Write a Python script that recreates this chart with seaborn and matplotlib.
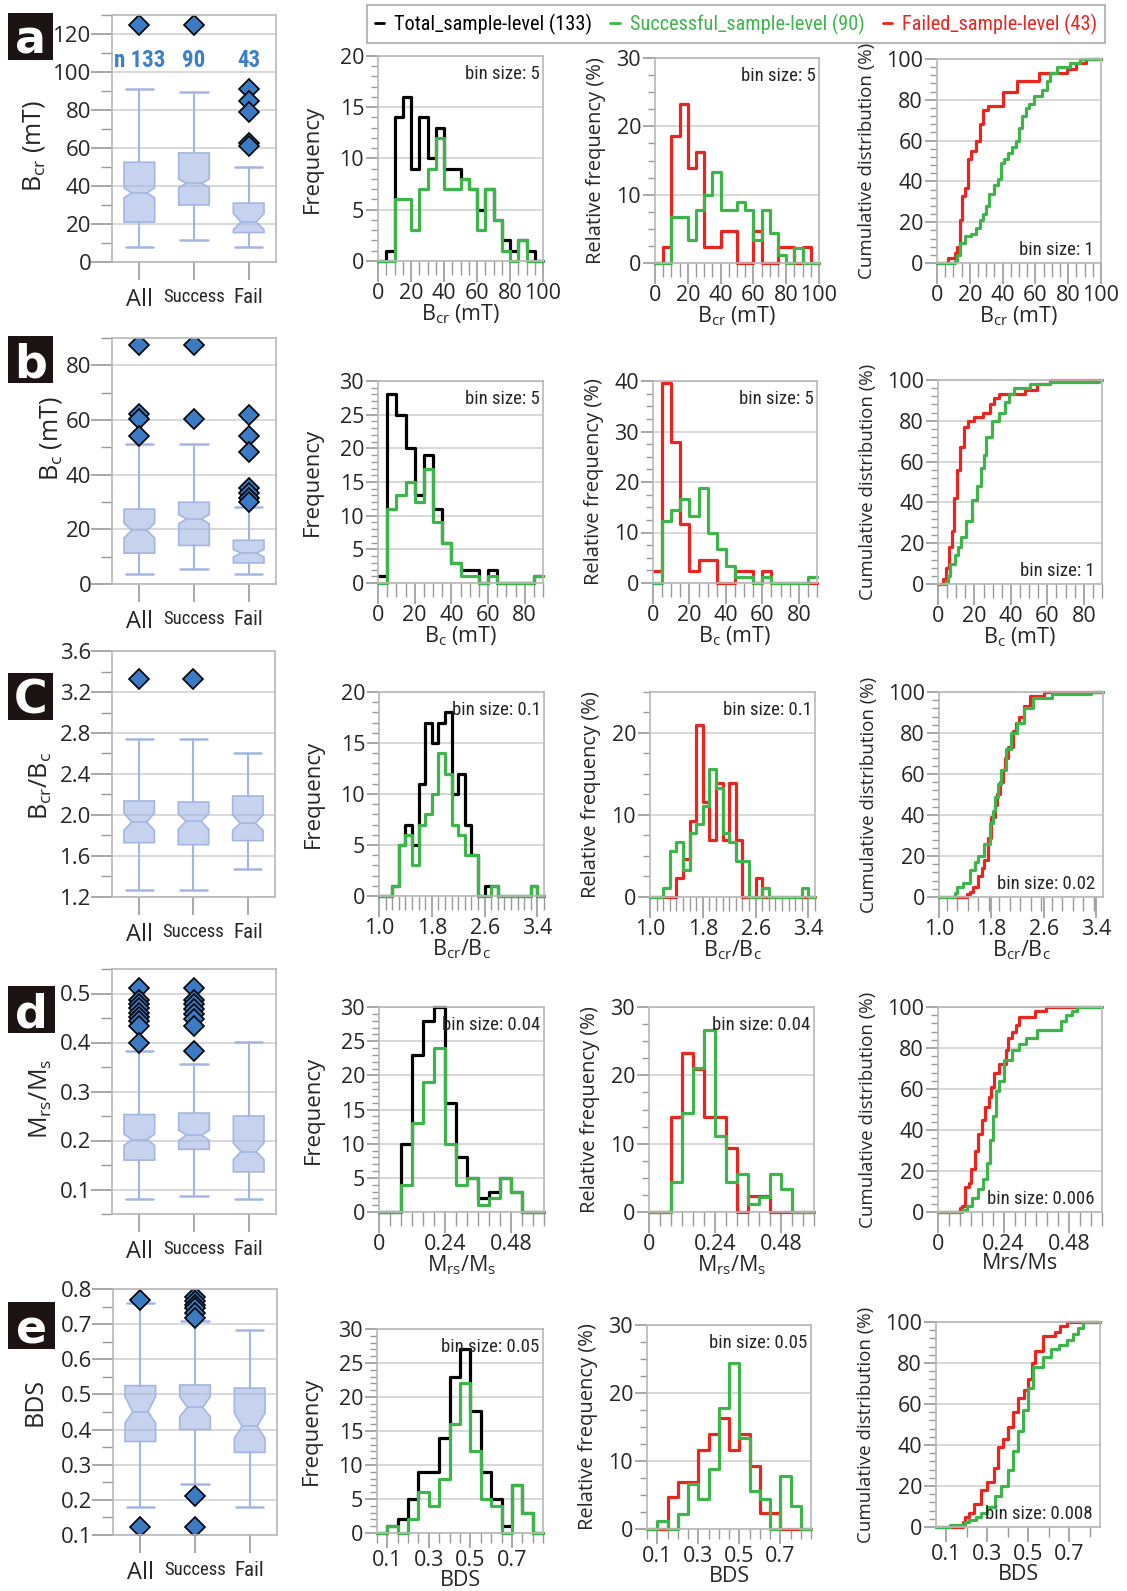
import numpy as np
import pandas as pd
import matplotlib
matplotlib.use("Agg")
import matplotlib.pyplot as plt
import seaborn as sns
from matplotlib import font_manager
from matplotlib.lines import Line2D
from matplotlib.patches import Rectangle
from matplotlib.font_manager import FontProperties
from matplotlib.ticker import MultipleLocator, FormatStrFormatter

# ── Style ─────────────────────────────────────────────────────────────────────
sns.set_style("white")
plt.rcParams["font.family"] = ["Open Sans", "DejaVu Sans"]
plt.rcParams["mathtext.default"] = "regular"


def has_font(name):
    try:
        font_manager.findfont(FontProperties(family=name), fallback_to_default=False)
        return True
    except ValueError:
        return False


# condensed text where the figure uses a narrow face
if has_font("Roboto Condensed"):
    NARROW, NS = ["Roboto Condensed"], 1.0
else:
    NARROW, NS = ["Liberation Sans", "DejaVu Sans"], 0.86

W, H = 1127, 1591
BLACK, GREEN, RED = "#000000", "#3db54b", "#e8251f"
BOX_FILL, BOX_EDGE, FLIER, N_COLOR = (0.64, 0.71, 0.89, 0.6), "#a3b6e2", "#3a7bc4", "#3f80c4"
GRID, SPINE = "#d2d2d2", "#b8b8b8"

# ── Data ──────────────────────────────────────────────────────────────────────
GROUPS = ["All", "Success", "Fail"]
N_SUCCESS, N_FAIL = 90, 43
N_LABELS = ["n 133", "90", "43"]
LEGEND_LABELS = ["Total_sample-level (133)", "Successful_sample-level (90)",
                 "Failed_sample-level (43)"]

# Bcr (mT), bins of 5 from 0
BCR_TOTAL = [0, 1, 14, 16, 9, 14, 10, 13, 9, 9, 8, 7, 5, 7, 4, 2, 1, 2, 1, 0]
BCR_SUCCESS = [0, 0, 6, 6, 3, 7, 9, 12, 7, 7, 8, 7, 3, 7, 4, 1, 0, 2, 0, 0]
BCR_FAIL = [0, 1, 8, 10, 6, 7, 1, 1, 2, 2, 0, 0, 2, 0, 0, 1, 1, 0, 1, 0]
BCR_MED = [36.4, 41.4, 21.1]
BCR_Q1 = [21.0, 30.0, 15.5]
BCR_Q3 = [52.5, 57.4, 31.0]
BCR_WLO = [7.9, 11.8, 7.9]
BCR_WHI = [91.0, 89.3, 49.8]
BCR_CILO = [33.8, 39.2, 17.0]
BCR_CIHI = [39.0, 43.6, 25.5]
BCR_FLIERS = [[124.5], [124.5], [91.0, 85.0, 79.0, 62.5, 61.2]]
BCR_ECDF_FAIL_X = [0, 7, 11, 12, 14, 15, 17, 19, 21, 23.5, 26, 28, 31, 40, 49, 62, 79, 85, 91, 100]
BCR_ECDF_FAIL_Y = [0, 2.3, 4.7, 8, 21, 33, 37, 51, 55, 60, 68, 75, 77, 84, 89, 93, 95, 98, 100, 100]
BCR_ECDF_SUCC_X = [0, 11, 12, 14, 17, 21, 24, 26, 28, 30, 32, 35, 37, 39, 41, 43, 46, 48, 50,
                   52, 54, 56, 59, 64, 67, 69, 73, 81, 87, 100]
BCR_ECDF_SUCC_Y = [0, 1, 4, 10, 13, 14, 17, 21, 24, 28, 34, 38, 41, 49, 51, 54, 57, 60, 66,
                   72, 76, 78, 82, 85, 89, 93, 96, 98, 100, 100]

# Bc (mT), bins of 5 from 0
BC_TOTAL = [1, 28, 25, 20, 13, 19, 11, 6, 3, 2, 2, 0, 2, 0, 0, 0, 0, 1]
BC_SUCCESS = [0, 11, 13, 15, 12, 17, 9, 6, 3, 1, 1, 0, 1, 0, 0, 0, 0, 1]
BC_FAIL = [1, 17, 12, 5, 1, 2, 2, 0, 0, 1, 1, 0, 1, 0, 0, 0, 0, 0]
BC_MED = [19.6, 23.8, 11.3]
BC_Q1 = [11.3, 14.1, 7.7]
BC_Q3 = [27.4, 29.9, 16.0]
BC_WLO = [3.8, 5.5, 3.8]
BC_WHI = [51.2, 51.2, 28.2]
BC_CILO = [16.8, 22.0, 9.9]
BC_CIHI = [22.3, 25.4, 12.6]
BC_FLIERS = [[87.4, 62.3, 60.4, 54.3], [87.4, 60.4],
             [61.8, 54.3, 48.3, 35.1, 33.3, 31.5, 30.0]]
BC_ECDF_FAIL_X = [0, 3, 4.6, 6, 7.6, 9, 10.6, 12, 14, 16.6, 19.6, 24.6, 28.6, 31, 33.6,
                  47.6, 54.6, 61.6, 90]
BC_ECDF_FAIL_Y = [0, 2.3, 7.7, 18, 26, 42, 56, 67, 77, 80, 82, 84, 88, 91, 93, 95, 98, 100, 100]
BC_ECDF_SUCC_X = [0, 4.2, 5.5, 6.6, 9.6, 11, 12.6, 15.6, 18.6, 21.6, 23.6, 25, 26.6, 29.6,
                  33.6, 36.6, 39, 41.6, 50.6, 61.6, 88.6, 90]
BC_ECDF_SUCC_Y = [0, 1, 4, 10, 14, 18, 23, 31, 41, 48, 57, 63, 72, 80, 84, 89, 93, 96, 98,
                  99, 100, 100]

# Bcr/Bc, bins of 0.1 from 1.0
RATIO_TOTAL = [0, 0, 1, 5, 7, 5, 11, 17, 15, 17, 18, 10, 12, 7, 4, 0, 1, 1, 0, 0, 0, 0, 0, 1, 0]
RATIO_SUCCESS = [0, 0, 1, 5, 6, 3, 7, 8, 10, 14, 12, 7, 6, 4, 4, 0, 0, 1, 0, 0, 0, 0, 0, 1, 0]
RATIO_FAIL = [0, 0, 0, 0, 1, 2, 4, 9, 5, 3, 6, 3, 6, 3, 0, 0, 1, 0, 0, 0, 0, 0, 0, 0, 0]
RATIO_MED = [1.93, 1.94, 1.92]
RATIO_Q1 = [1.73, 1.71, 1.75]
RATIO_Q3 = [2.137, 2.127, 2.185]
RATIO_WLO = [1.265, 1.265, 1.47]
RATIO_WHI = [2.745, 2.745, 2.605]
RATIO_CILO = [1.85, 1.86, 1.85]
RATIO_CIHI = [2.02, 2.01, 2.0]
RATIO_FLIERS = [[3.33], [3.33], []]
RATIO_ECDF_FAIL_X = [1.0, 1.43, 1.47, 1.52, 1.6, 1.65, 1.69, 1.75, 1.8, 1.85, 1.88, 1.93, 1.97,
                     2.01, 2.05, 2.13, 2.18, 2.22, 2.3, 2.38, 2.6, 3.5]
RATIO_ECDF_FAIL_Y = [0, 1.6, 2.3, 5, 10, 14, 18, 29, 39, 45, 50, 56, 62, 68, 73, 81, 85, 88, 93,
                     98, 100, 100]
RATIO_ECDF_SUCC_X = [1.0, 1.25, 1.28, 1.36, 1.47, 1.55, 1.6, 1.69, 1.77, 1.82, 1.86, 1.9, 1.94,
                     2.02, 2.1, 2.19, 2.3, 2.44, 2.72, 3.32, 3.5]
RATIO_ECDF_SUCC_Y = [0, 2, 5, 7, 13, 17, 20, 26, 36, 42, 49, 55, 62, 72, 80, 85, 92, 97, 99,
                     100, 100]

# Mrs/Ms, bins of 0.04 from 0
MRS_TOTAL = [0, 0, 10, 23, 28, 30, 16, 8, 5, 2, 3, 5, 3, 0, 0]
MRS_SUCCESS = [0, 0, 4, 13, 19, 24, 10, 4, 5, 1, 2, 5, 3, 0, 0]
MRS_FAIL = [0, 0, 6, 10, 9, 6, 6, 4, 0, 1, 1, 0, 0, 0, 0]
MRS_MED = [0.202, 0.211, 0.177]
MRS_Q1 = [0.160, 0.182, 0.136]
MRS_Q3 = [0.253, 0.256, 0.250]
MRS_WLO = [0.081, 0.086, 0.081]
MRS_WHI = [0.383, 0.356, 0.402]
MRS_CILO = [0.190, 0.200, 0.161]
MRS_CIHI = [0.213, 0.221, 0.195]
MRS_FLIERS = [[0.512, 0.486, 0.479, 0.471, 0.461, 0.452, 0.444, 0.434, 0.400],
              [0.512, 0.486, 0.478, 0.468, 0.458, 0.447, 0.434, 0.383], []]
MRS_ECDF_FAIL_X = [0, 0.079, 0.088, 0.099, 0.112, 0.121, 0.135, 0.148, 0.162, 0.171, 0.185,
                   0.194, 0.204, 0.224, 0.247, 0.257, 0.27, 0.284, 0.297, 0.356, 0.396, 0.6]
MRS_ECDF_FAIL_Y = [0, 2, 3, 12, 14, 21, 30, 38, 45, 51, 56, 61, 68, 72, 79, 85, 88, 91, 95, 98,
                   100, 100]
MRS_ECDF_SUCC_X = [0, 0.086, 0.106, 0.125, 0.145, 0.165, 0.178, 0.191, 0.202, 0.211, 0.224,
                   0.241, 0.27, 0.297, 0.323, 0.363, 0.449, 0.468, 0.49, 0.508, 0.6]
MRS_ECDF_SUCC_Y = [0, 1, 3, 7, 11, 16, 24, 35, 47, 59, 64, 74, 79, 82, 85, 89, 93, 96, 98,
                   100, 100]

# BDS, bins of 0.05 from 0.05
BDS_TOTAL = [0, 1, 2, 5, 9, 9, 14, 23, 27, 18, 9, 5, 1, 7, 3, 0]
BDS_SUCCESS = [0, 1, 0, 2, 6, 4, 8, 16, 22, 12, 5, 4, 0, 7, 3, 0]
BDS_FAIL = [0, 0, 2, 3, 3, 5, 6, 7, 5, 6, 4, 1, 1, 0, 0, 0]
BDS_MED = [0.451, 0.463, 0.410]
BDS_Q1 = [0.366, 0.400, 0.335]
BDS_Q3 = [0.525, 0.527, 0.518]
BDS_WLO = [0.179, 0.245, 0.179]
BDS_WHI = [0.760, 0.710, 0.682]
BDS_CILO = [0.418, 0.437, 0.375]
BDS_CIHI = [0.494, 0.494, 0.447]
BDS_FLIERS = [[0.770, 0.122], [0.777, 0.765, 0.755, 0.746, 0.733, 0.717, 0.211, 0.122], []]
BDS_ECDF_FAIL_X = [0.05, 0.18, 0.19, 0.21, 0.235, 0.27, 0.3, 0.332, 0.35, 0.376, 0.402, 0.425,
                   0.45, 0.478, 0.5, 0.517, 0.535, 0.57, 0.63, 0.655, 0.69, 0.85]
BDS_ECDF_FAIL_Y = [0, 2.3, 5, 7, 11, 18, 22, 29, 39, 43, 49, 56, 63, 67, 72, 80, 86, 93, 95, 98,
                   100, 100]
BDS_ECDF_SUCC_X = [0.05, 0.12, 0.19, 0.21, 0.245, 0.27, 0.3, 0.34, 0.367, 0.402, 0.428, 0.45,
                   0.472, 0.5, 0.525, 0.57, 0.613, 0.65, 0.69, 0.72, 0.745, 0.765, 0.85]
BDS_ECDF_SUCC_Y = [0, 1.1, 2.2, 3.3, 5, 7, 10, 15, 20, 28, 37, 47, 57, 68, 78, 83, 87, 89, 91,
                   94, 97, 100, 100]


def box_stats(med, q1, q3, wlo, whi, cilo, cihi, fliers):
    return [dict(med=med[i], q1=q1[i], q3=q3[i], whislo=wlo[i], whishi=whi[i],
                 cilo=cilo[i], cihi=cihi[i], fliers=fliers[i]) for i in range(3)]


ROWS = [
    dict(letter="a", ylabel="B$_{cr}$ (mT)", xlabel="B$_{cr}$ (mT)", xlabel4="B$_{cr}$ (mT)",
         stats=box_stats(BCR_MED, BCR_Q1, BCR_Q3, BCR_WLO, BCR_WHI, BCR_CILO, BCR_CIHI, BCR_FLIERS),
         box_ylim=(0, 130), box_major=20, box_minor=10, box_fmt="%d",
         bin0=0, binw=5, total=BCR_TOTAL, succ=BCR_SUCCESS, fail=BCR_FAIL,
         xlim=(0, 100), xticks=[0, 20, 40, 60, 80, 100], xlabels=None, xminor=5, xminor4=5,
         freq_ylim=20, freq_major=5, rel_ylim=30, rel_major=10,
         ecdf=(BCR_ECDF_FAIL_X, BCR_ECDF_FAIL_Y, BCR_ECDF_SUCC_X, BCR_ECDF_SUCC_Y),
         bin_text="5", bin_text4="1", ylab_px=47, ylab_frac=0.47, xlab_px=41, tick_len=15),
    dict(letter="b", ylabel="B$_c$ (mT)", xlabel="B$_c$ (mT)", xlabel4="B$_c$ (mT)",
         stats=box_stats(BC_MED, BC_Q1, BC_Q3, BC_WLO, BC_WHI, BC_CILO, BC_CIHI, BC_FLIERS),
         box_ylim=(0, 90), box_major=20, box_minor=10, box_fmt="%d",
         bin0=0, binw=5, total=BC_TOTAL, succ=BC_SUCCESS, fail=BC_FAIL,
         xlim=(0, 90), xticks=[0, 20, 40, 60, 80], xlabels=None, xminor=5, xminor4=5,
         freq_ylim=30, freq_major=5, rel_ylim=40, rel_major=10,
         ecdf=(BC_ECDF_FAIL_X, BC_ECDF_FAIL_Y, BC_ECDF_SUCC_X, BC_ECDF_SUCC_Y),
         bin_text="5", bin_text4="1", ylab_px=64, ylab_frac=0.59, xlab_px=41, tick_len=15),
    dict(letter="C", ylabel="B$_{cr}$/B$_c$", xlabel="B$_{cr}$/B$_c$", xlabel4="B$_{cr}$/B$_c$",
         stats=box_stats(RATIO_MED, RATIO_Q1, RATIO_Q3, RATIO_WLO, RATIO_WHI, RATIO_CILO,
                         RATIO_CIHI, RATIO_FLIERS),
         box_ylim=(1.2, 3.6), box_major=0.4, box_minor=0.2, box_fmt="%.1f",
         bin0=1.0, binw=0.1, total=RATIO_TOTAL, succ=RATIO_SUCCESS, fail=RATIO_FAIL,
         xlim=(1.0, 3.5), xticks=[1.0, 1.8, 2.6, 3.4], xlabels=["1.0", "1.8", "2.6", "3.4"],
         xminor=0.1, xminor4=0.16,
         freq_ylim=20, freq_major=5, rel_ylim=25, rel_major=10,
         ecdf=(RATIO_ECDF_FAIL_X, RATIO_ECDF_FAIL_Y, RATIO_ECDF_SUCC_X, RATIO_ECDF_SUCC_Y),
         bin_text="0.1", bin_text4="0.02", ylab_px=54, ylab_frac=0.45, xlab_px=41, tick_len=15),
    dict(letter="d", ylabel="M$_{rs}$/M$_s$", xlabel="M$_{rs}$/M$_s$", xlabel4="Mrs/Ms",
         stats=box_stats(MRS_MED, MRS_Q1, MRS_Q3, MRS_WLO, MRS_WHI, MRS_CILO, MRS_CIHI, MRS_FLIERS),
         box_ylim=(0.05, 0.55), box_major=0.1, box_minor=0.05, box_fmt="%.1f",
         bin0=0.0, binw=0.04, total=MRS_TOTAL, succ=MRS_SUCCESS, fail=MRS_FAIL,
         xlim=(0, 0.6), xticks=[0, 0.24, 0.48], xlabels=["0", "0.24", "0.48"],
         xminor=0.04, xminor4=0.04,
         freq_ylim=30, freq_major=5, rel_ylim=30, rel_major=10,
         ecdf=(MRS_ECDF_FAIL_X, MRS_ECDF_FAIL_Y, MRS_ECDF_SUCC_X, MRS_ECDF_SUCC_Y),
         bin_text="0.04", bin_text4="0.006", ylab_px=54, ylab_frac=0.47, xlab_px=41, tick_len=15),
    dict(letter="e", ylabel="BDS", xlabel="BDS", xlabel4="BDS",
         stats=box_stats(BDS_MED, BDS_Q1, BDS_Q3, BDS_WLO, BDS_WHI, BDS_CILO, BDS_CIHI, BDS_FLIERS),
         box_ylim=(0.1, 0.8), box_major=0.1, box_minor=0.05, box_fmt="%.1f",
         bin0=0.05, binw=0.05, total=BDS_TOTAL, succ=BDS_SUCCESS, fail=BDS_FAIL,
         xlim=(0.05, 0.85), xticks=[0.1, 0.3, 0.5, 0.7], xlabels=["0.1", "0.3", "0.5", "0.7"],
         xminor=0.05, xminor4=0.1,
         freq_ylim=30, freq_major=5, rel_ylim=30, rel_major=10,
         ecdf=(BDS_ECDF_FAIL_X, BDS_ECDF_FAIL_Y, BDS_ECDF_SUCC_X, BDS_ECDF_SUCC_Y),
         bin_text="0.05", bin_text4="0.008", ylab_px=48, ylab_frac=0.54, xlab_px=37, tick_len=11),
]

# ── Layout (pixel boxes: left, top, right, bottom) ────────────────────────────
BOX_RECTS = [(112, 15, 276, 262), (112, 338, 276, 584), (112, 651, 275, 897),
             (112, 969, 276, 1214), (113, 1289, 277, 1535)]
FREQ_RECTS = [(378, 56, 543, 261), (378, 381, 543, 583), (379, 692, 544, 896),
              (379, 1007, 544, 1212), (377, 1329, 543, 1533)]
REL_RECTS = [(655, 58, 819, 263), (653, 381, 817, 583), (650, 692, 815, 897),
             (649, 1007, 814, 1212), (647, 1325, 811, 1529)]
CUM_RECTS = [(937, 59, 1101, 263), (938, 380, 1102, 584), (939, 692, 1103, 897),
             (938, 1007, 1102, 1212), (936, 1322, 1100, 1527)]
LETTER_RECTS = [(8, 13, 53, 60), (8, 336, 53, 383), (8, 673, 53, 720),
                (8, 986, 55, 1033), (8, 1302, 55, 1349)]

fig = plt.figure(figsize=(W / 100, H / 100), dpi=100)


def add_ax(rect):
    x0, y0, x1, y1 = rect
    return fig.add_axes([x0 / W, 1 - y1 / H, (x1 - x0) / W, (y1 - y0) / H])


def style_ax(ax, tick_len=15):
    for s in ax.spines.values():
        s.set_visible(True)
        s.set_color(SPINE)
        s.set_linewidth(1.2)
    ax.grid(axis="y", which="major", color=GRID, lw=1.2)
    ax.grid(axis="x", visible=False)
    ax.set_axisbelow(True)
    ax.tick_params(which="both", direction="out", color="#999999", labelsize=15.5,
                   bottom=True, left=True)
    ax.tick_params(axis="y", which="major", length=9, width=1.2, pad=1)
    ax.tick_params(axis="y", which="minor", length=5, width=1)
    ax.tick_params(axis="x", which="major", length=tick_len, width=1.2, pad=1)
    ax.tick_params(axis="x", which="minor", length=tick_len * 2 / 3, width=1)


def set_labels(ax, rect, xlabel, ylabel, ypx, yfs, xpx, xfs=15.5):
    x0, y0, x1, y1 = rect
    ax.set_xlabel(xlabel, fontsize=xfs)
    ax.set_ylabel(ylabel, fontsize=yfs)
    ax.xaxis.set_label_coords(0.5, -xpx / (y1 - y0))
    ax.yaxis.set_label_coords(-ypx / (x1 - x0), 0.5)


def x_axis(ax, row, minor):
    ax.set_xlim(*row["xlim"])
    ax.set_xticks(row["xticks"])
    if row["xlabels"] is not None:
        ax.set_xticklabels(row["xlabels"])
    ax.xaxis.set_minor_locator(MultipleLocator(minor))


def bin_label(ax, text, bottom=False):
    kw = dict(transform=ax.transAxes, ha="right", fontsize=13.5 * NS, family=NARROW)
    if bottom:
        ax.text(0.955, 0.02, f"bin size: {text}", va="bottom", **kw)
    else:
        ax.text(0.98, 0.955, f"bin size: {text}", va="top", **kw)


def step_hist(ax, centers, edges, values, color):
    df = pd.DataFrame({"x": centers, "w": np.asarray(values, dtype=float)})
    sns.histplot(data=df, x="x", weights="w", bins=list(edges), element="step", fill=False,
                 color=color, linewidth=2.3, ax=ax, clip_on=False)


for i, row in enumerate(ROWS):
    # ── Box plot ──
    ax = add_ax(BOX_RECTS[i])
    ax.bxp(row["stats"], positions=[1, 2, 3], widths=0.56, shownotches=True,
           patch_artist=True, capwidths=0.5,
           boxprops=dict(facecolor=BOX_FILL, edgecolor=BOX_EDGE, linewidth=1.2),
           whiskerprops=dict(color=BOX_EDGE, linewidth=1.5),
           capprops=dict(color=BOX_EDGE, linewidth=1.8),
           medianprops=dict(color=BOX_EDGE, linewidth=1.2),
           flierprops=dict(marker="D", markerfacecolor=FLIER, markeredgecolor="black",
                           markeredgewidth=1.2, markersize=10, linestyle="none"))
    style_ax(ax)
    ax.set_xlim(0.5, 3.5)
    ax.yaxis.set_major_locator(MultipleLocator(row["box_major"]))
    ax.yaxis.set_minor_locator(MultipleLocator(row["box_minor"]))
    ax.yaxis.set_major_formatter(FormatStrFormatter(row["box_fmt"]))
    ax.set_ylim(*row["box_ylim"])
    ax.tick_params(axis="y", which="major", length=15, pad=0, labelsize=16)
    ax.tick_params(axis="y", which="minor", length=8)
    ax.tick_params(axis="x", which="major", length=13, pad=6)
    ax.set_xticks([1, 2, 3])
    ax.set_xticklabels(GROUPS)
    for lab, fam, fs in zip(ax.get_xticklabels(), [["Open Sans"], NARROW, NARROW],
                            [17, 13.5 * NS, 15 * NS]):
        lab.set_family(fam)
        lab.set_fontsize(fs)
    x0, y0, x1, y1 = BOX_RECTS[i]
    ax.set_ylabel(row["ylabel"], fontsize=18)
    ax.yaxis.set_label_coords((row["ylab_px"] - x0) / (x1 - x0), row["ylab_frac"])
    if i == 0:
        for pos, txt in zip([1, 2, 3], N_LABELS):
            ax.text(pos, 106, txt, ha="center", va="center", color=N_COLOR, fontsize=16.5 * NS,
                    fontweight="bold", family=NARROW)

    edges = row["bin0"] + row["binw"] * np.arange(len(row["total"]) + 1)
    centers = edges[:-1] + row["binw"] / 2

    # ── Frequency histogram ──
    ax = add_ax(FREQ_RECTS[i])
    step_hist(ax, centers, edges, row["total"], BLACK)
    step_hist(ax, centers, edges, row["succ"], GREEN)
    style_ax(ax, row["tick_len"])
    x_axis(ax, row, row["xminor"])
    ax.set_ylim(0, row["freq_ylim"])
    ax.yaxis.set_major_locator(MultipleLocator(row["freq_major"]))
    ax.yaxis.set_minor_locator(MultipleLocator(1))
    set_labels(ax, FREQ_RECTS[i], row["xlabel"], "Frequency", 55, 16, row["xlab_px"])
    bin_label(ax, row["bin_text"])

    # ── Relative frequency histogram ──
    ax = add_ax(REL_RECTS[i])
    step_hist(ax, centers, edges, np.array(row["fail"]) / N_FAIL * 100, RED)
    step_hist(ax, centers, edges, np.array(row["succ"]) / N_SUCCESS * 100, GREEN)
    style_ax(ax, row["tick_len"])
    x_axis(ax, row, row["xminor"])
    ax.set_ylim(0, row["rel_ylim"])
    ax.yaxis.set_major_locator(MultipleLocator(row["rel_major"]))
    ax.yaxis.set_minor_locator(MultipleLocator(2.5))
    set_labels(ax, REL_RECTS[i], row["xlabel"], "Relative frequency (%)", 49, 14.5,
               row["xlab_px"])
    bin_label(ax, row["bin_text"])

    # ── Cumulative distribution ──
    ax = add_ax(CUM_RECTS[i])
    fx, fy, sx, sy = row["ecdf"]
    sns.lineplot(x=fx, y=fy, drawstyle="steps-post", color=RED, linewidth=2.3, ax=ax,
                 errorbar=None, clip_on=False)
    sns.lineplot(x=sx, y=sy, drawstyle="steps-post", color=GREEN, linewidth=2.3, ax=ax,
                 errorbar=None, clip_on=False)
    style_ax(ax, row["tick_len"])
    x_axis(ax, row, row["xminor4"])
    ax.set_ylim(0, 100)
    ax.yaxis.set_major_locator(MultipleLocator(20))
    ax.yaxis.set_minor_locator(MultipleLocator(4))
    set_labels(ax, CUM_RECTS[i], row["xlabel4"], "Cumulative distribution (%)", 61, 13.5,
               row["xlab_px"])
    bin_label(ax, row["bin_text4"], bottom=True)

# ── Panel letters ─────────────────────────────────────────────────────────────
for row, (x0, y0, x1, y1) in zip(ROWS, LETTER_RECTS):
    fig.add_artist(Rectangle((x0 / W, 1 - y1 / H), (x1 - x0) / W, (y1 - y0) / H,
                             transform=fig.transFigure, facecolor="#1c1412", edgecolor="none"))
    fig.text((x0 + x1) / 2 / W, 1 - (y0 + y1) / 2 / H, row["letter"], color="white",
             ha="center", va="center_baseline", fontsize=33, fontweight="bold",
             family="DejaVu Sans")

# ── Legend ────────────────────────────────────────────────────────────────────
handles = [Line2D([0], [0], color=c, lw=2) for c in (BLACK, GREEN, RED)]
leg = fig.legend(handles, LEGEND_LABELS, loc="center", bbox_to_anchor=(736 / W, 1 - 24 / H),
                 ncol=3, frameon=True, fancybox=False, edgecolor="#a8a8a8",
                 handlelength=0.45, handletextpad=0.5, columnspacing=0.9, borderpad=0.4,
                 prop=FontProperties(family=NARROW, size=14.6 * NS), labelcolor="linecolor")
leg.get_frame().set_linewidth(1.5)

fig.savefig("out.png", dpi=100)
